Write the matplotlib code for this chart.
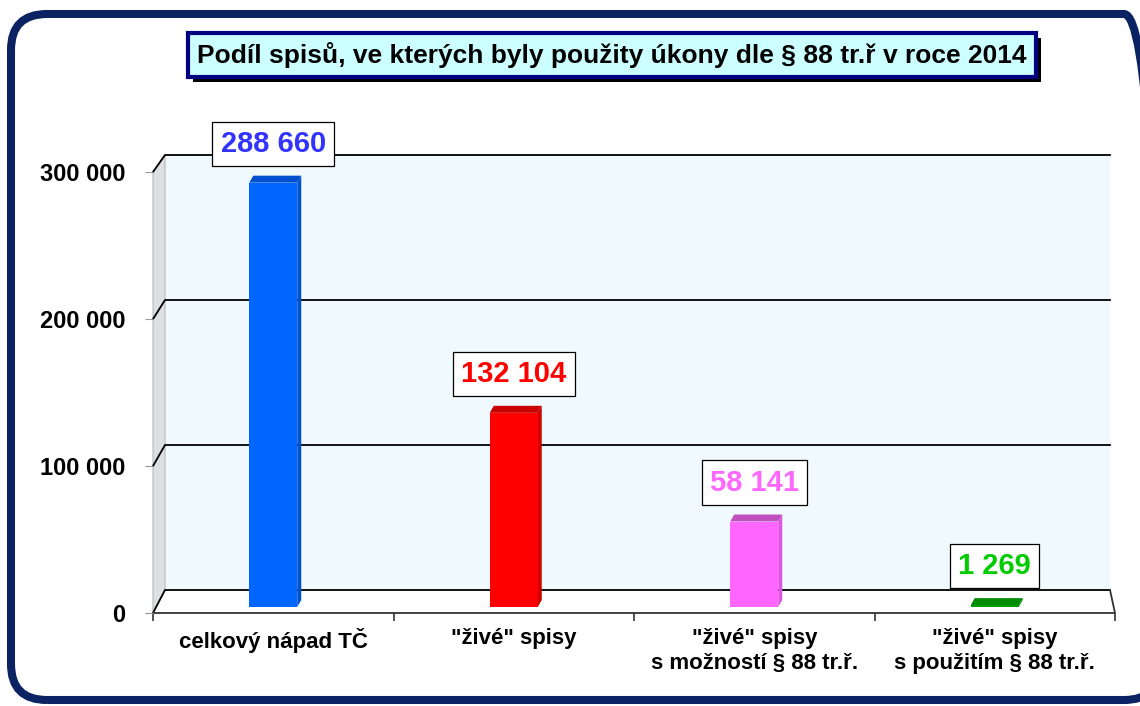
import matplotlib
matplotlib.use("Agg")
import matplotlib.pyplot as plt
from matplotlib.patches import FancyBboxPatch, Polygon, Rectangle
from matplotlib.transforms import IdentityTransform
import numpy as np

plt.rcParams["font.family"] = ["Liberation Sans", "DejaVu Sans"]
plt.rcParams["font.weight"] = "bold"

# ─── Data ────────────────────────────────────────────────────────────────────
categories = [
    "celkový nápad TČ",
    "\"živé\" spisy",
    "\"živé\" spisy\ns možností § 88 tr.ř.",
    "\"živé\" spisy\ns použitím § 88 tr.ř.",
]
values = [288660, 132104, 58141, 1269]
yticks = [0, 100000, 200000, 300000]
title = "Podíl spisů, ve kterých byly použity úkony dle § 88 tr.ř v roce 2014"

front_colors = ["#0066FF", "#FF0000", "#FF66FF", "#00A000"]
top_colors = ["#0050D0", "#C80000", "#C050C0", "#008C00"]
side_colors = ["#0052C8", "#D00000", "#E055E0", "#008C00"]
label_colors = ["#3333FF", "#FF0000", "#FF66FF", "#00CC00"]


def fmt(v):
    return f"{v:,}".replace(",", " ")


# ─── Layout (pixels) ─────────────────────────────────────────────────────────
W, H, DPI = 1140, 706, 100
L, R, B = 153, 1115, 613          # axes left / right / front baseline
YMAX = 320000
PX_PER_Y = (613 - 172) / 300000
T = B - YMAX * PX_PER_Y

fig = plt.figure(figsize=(W / DPI, H / DPI), dpi=DPI)
ax = fig.add_axes([L / W, (H - B) / H, (R - L) / W, (B - T) / H])
ax.set_xlim(-0.5, len(categories) - 0.5)
ax.set_ylim(0, YMAX)
ax.patch.set_alpha(0)
for s in ax.spines.values():
    s.set_visible(False)

xmin, xmax = ax.get_xlim()
px_per_x = (R - L) / (xmax - xmin)


def dx(px):
    return px / px_per_x


def dy(px):
    return px / PX_PER_Y


# the back wall sits deeper and is drawn slightly smaller (perspective)
bx0, bx1 = xmin + dx(12), xmax - dx(5)
back0, back_k = dy(23), 145 / 147


def back(v):
    return back0 + v * back_k


wall_top = yticks[-1]

# back wall
ax.add_patch(Rectangle((bx0, back(0)), bx1 - bx0, back(wall_top) - back(0),
                       fc="#F0F9FD", ec="none", zorder=0, clip_on=False))
# left wall
ax.add_patch(Polygon([(xmin, 0), (xmin, wall_top), (bx0, back(wall_top)), (bx0, back(0))],
                     closed=True, fc="#DCE0E3", ec="#B8B8B8", lw=0.8, zorder=0.5, clip_on=False))
# floor
ax.add_patch(Polygon([(xmin, 0), (xmax, 0), (bx1, back(0)), (bx0, back(0))],
                     closed=True, fc="white", ec="none", zorder=0.6, clip_on=False))

# gridlines on the back wall, with the slanted piece on the left wall
for yv in yticks:
    ax.plot([xmin, bx0, bx1], [yv, back(yv), back(yv)],
            color="black", lw=1.3, zorder=1, clip_on=False)

# floor front edge and right edge
ax.plot([xmin, xmax, bx1], [0, 0, back(0)], color="#333333", lw=1.3, zorder=1, clip_on=False)

# ─── Bars ────────────────────────────────────────────────────────────────────
bw = dx(48)
sy = dy(6)                       # bars stand a bit into the floor
tx, ty = dx(4), dy(7)            # depth of the bar itself
xs = np.arange(len(categories))

ax.bar(xs, values, width=bw, bottom=sy, color=front_colors, zorder=3)
for x, v, ct, cs in zip(xs, values, top_colors, side_colors):
    x0, x1, top = x - bw / 2, x + bw / 2, v + sy
    ax.add_patch(Polygon([(x1, sy), (x1 + tx, sy + ty), (x1 + tx, top + ty), (x1, top)],
                         closed=True, fc=cs, ec="none", zorder=2.9))
    ax.add_patch(Polygon([(x0, top), (x1, top), (x1 + tx, top + ty), (x0 + tx, top + ty)],
                         closed=True, fc=ct, ec="none", zorder=3.1))

for x, v, c in zip(xs, values, label_colors):
    ax.annotate(fmt(v), xy=(x, v + sy), xytext=(0, 28), textcoords="offset points",
                ha="center", va="center", fontsize=21, fontweight="bold", color=c,
                bbox=dict(boxstyle="square,pad=0.28", fc="white", ec="black", lw=0.9),
                zorder=5)

# ─── Axes ticks ──────────────────────────────────────────────────────────────
ax.set_yticks(yticks)
ax.set_yticklabels([fmt(v) for v in yticks], fontsize=17, fontweight="bold")
ax.tick_params(axis="y", length=6, color="#999999", pad=14)

ax.set_xticks(xs)
ax.set_xticklabels(categories, fontsize=16, fontweight="bold", linespacing=1.25)
ax.set_xticks(np.arange(len(categories) + 1) - 0.5, minor=True)
ax.tick_params(axis="x", which="major", length=0, pad=11)
ax.tick_params(axis="x", which="minor", length=6, color="#333333", width=1.2)

# ─── Title with shadow ───────────────────────────────────────────────────────
title_txt = fig.text(612 / W, 1 - 55 / H, title, ha="center", va="center", fontsize=19,
                     fontweight="bold", color="black", zorder=4,
                     bbox=dict(boxstyle="square,pad=0.35", fc="#CCFFFF", ec="#000080", lw=3))
fig.canvas.draw()
bb = title_txt.get_bbox_patch().get_window_extent()
fig.add_artist(Rectangle((bb.x0 + 5, bb.y0 - 5), bb.width, bb.height,
                         transform=IdentityTransform(), fc="black", ec="none", zorder=3))

# ─── Outer rounded frame (runs off the right edge) ───────────────────────────
frame = FancyBboxPatch((0.11, 0.06), 11.49, 6.86, boxstyle="round,pad=0,rounding_size=0.36",
                       transform=fig.dpi_scale_trans, fill=False, ec="#0B2263", lw=5.8)
fig.add_artist(frame)

fig.savefig("out.png", dpi=DPI)
